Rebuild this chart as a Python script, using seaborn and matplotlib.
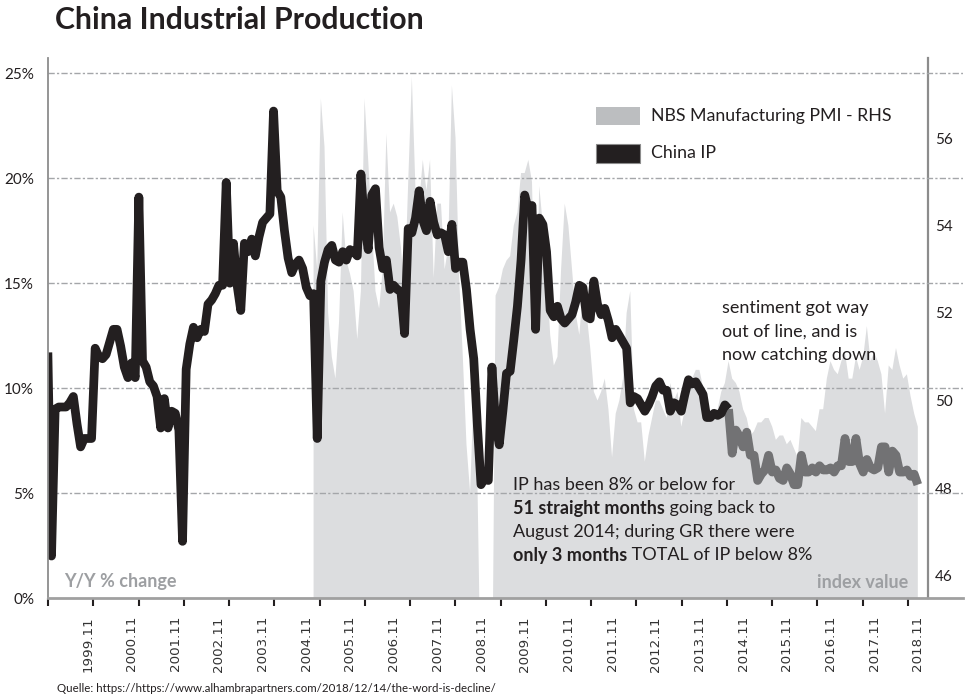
import numpy as np
import pandas as pd
import matplotlib
matplotlib.use("Agg")
import matplotlib.pyplot as plt
import seaborn as sns
from matplotlib.patches import Rectangle

# ---------------- data ----------------
months = pd.period_range("1998-12", "2018-11", freq="M")

ip_values = [
    11.7,
    2.0, 9.0, 9.1, 9.1, 9.1, 9.3, 9.6, 8.3, 7.2, 7.6, 7.6, 7.6,          # 1999
    11.9, 11.5, 11.4, 11.6, 12.2, 12.8, 12.8, 12.0, 11.0, 10.5, 11.2, 10.5,  # 2000
    19.1, 11.3, 11.0, 10.3, 10.1, 9.6, 8.1, 9.5, 8.1, 8.9, 8.8, 8.0,     # 2001
    2.7, 10.9, 12.1, 12.9, 12.4, 12.8, 12.7, 14.0, 14.2, 14.5, 14.9, 14.9,  # 2002
    19.8, 15.0, 16.9, 14.9, 13.7, 16.9, 16.5, 17.1, 16.3, 17.2, 17.9, 18.1,  # 2003
    18.3, 23.2, 19.4, 19.1, 17.5, 16.2, 15.5, 15.9, 16.1, 15.7, 14.8, 14.4,  # 2004
    14.5, 7.6, 15.1, 16.0, 16.6, 16.8, 16.1, 16.0, 16.5, 16.1, 16.6, 16.5,   # 2005
    16.3, 20.2, 17.8, 16.6, 19.2, 19.5, 16.7, 15.7, 16.1, 14.7, 14.9, 14.7,  # 2006
    14.6, 12.6, 17.6, 17.4, 18.1, 19.4, 18.0, 17.5, 18.9, 17.9, 17.3, 17.4,  # 2007
    17.3, 16.5, 17.8, 15.7, 16.0, 16.0, 14.7, 12.8, 11.4, 8.2, 5.4, 5.7,     # 2008
    5.6, 11.0, 8.3, 7.3, 8.9, 10.7, 10.8, 12.3, 13.9, 16.1, 19.2, 18.5,      # 2009
    18.7, 12.8, 18.1, 17.8, 16.5, 13.7, 13.4, 13.9, 13.3, 13.1, 13.3, 13.5,  # 2010
    14.1, 14.9, 14.8, 13.4, 13.3, 15.1, 14.0, 13.5, 13.8, 13.2, 12.4, 12.8,  # 2011
    12.5, 12.2, 11.9, 9.3, 9.6, 9.5, 9.2, 8.9, 9.2, 9.6, 10.1, 10.3,         # 2012
    9.9, 9.9, 8.9, 9.3, 9.2, 8.9, 9.7, 10.4, 10.2, 10.3, 10.0, 9.7,          # 2013
    8.6, 8.6, 8.8, 8.7, 8.8, 9.2, 9.0, 6.9, 8.0, 7.7, 7.2, 7.9,              # 2014
    6.8, 6.8, 5.6, 5.9, 6.1, 6.8, 6.0, 6.1, 5.7, 5.6, 6.2, 5.9,              # 2015
    5.4, 5.4, 6.8, 6.0, 6.0, 6.2, 6.0, 6.3, 6.1, 6.1, 6.2, 6.0,              # 2016
    6.3, 6.3, 7.6, 6.5, 6.5, 7.6, 6.4, 6.0, 6.6, 6.2, 6.1, 6.2,              # 2017
    7.2, 7.2, 6.0, 7.0, 6.8, 6.0, 6.0, 6.1, 5.8, 5.9, 5.4,                   # 2018
]

pmi_start = "2005-01"
pmi_values = [
    54.0, 53.0, 56.9, 55.8, 52.0, 51.0, 50.5, 51.8, 54.3, 53.2, 52.9, 52.5,  # 2005
    51.4, 52.5, 56.9, 55.5, 54.0, 52.5, 52.1, 53.0, 56.1, 54.3, 54.5, 54.2,  # 2006
    53.5, 52.5, 55.0, 57.4, 54.8, 54.5, 55.5, 54.8, 55.5, 52.8, 54.5, 54.5,  # 2007
    53.0, 53.5, 57.2, 56.0, 52.8, 51.0, 49.0, 47.9, 50.2, 48.2, 43.0, 41.0,  # 2008
    41.5, 42.4, 52.4, 52.6, 53.0, 53.2, 53.3, 54.0, 54.3, 55.2, 55.2, 55.5,  # 2009
    55.0, 51.5, 54.9, 54.0, 53.0, 51.5, 50.8, 51.0, 53.0, 54.5, 54.0, 53.0,  # 2010
    52.0, 51.5, 52.5, 52.0, 51.2, 50.2, 50.0, 50.2, 50.5, 49.8, 48.7, 49.7,  # 2011
    50.0, 50.5, 52.0, 52.5, 49.8, 49.5, 49.5, 48.6, 49.2, 49.6, 50.0, 50.0,  # 2012
    49.8, 49.6, 50.4, 50.0, 50.2, 49.4, 49.8, 50.3, 50.5, 50.7, 50.7, 50.3,  # 2013
    50.0, 49.6, 49.8, 49.8, 50.2, 50.4, 50.9, 50.5, 50.4, 50.2, 49.8, 49.6,  # 2014
    49.2, 49.3, 49.5, 49.5, 49.6, 49.6, 49.4, 49.1, 49.2, 49.2, 49.0, 49.1,  # 2015
    48.9, 48.7, 49.6, 49.5, 49.5, 49.4, 49.3, 49.8, 49.8, 50.5, 50.9, 50.7,  # 2016
    50.6, 50.9, 51.1, 50.5, 50.5, 51.0, 50.7, 51.0, 51.7, 50.9, 51.1, 50.9,  # 2017
    50.6, 49.7, 50.8, 50.7, 51.2, 50.8, 50.5, 50.6, 50.1, 49.7, 49.4,        # 2018
]

highlight_from = "2014-07"   # last stretch drawn in grey
left_ticks = [0, 5, 10, 15, 20, 25]
left_labels = ["0%", "5%", "10%", "15%", "20%", "25%"]
right_ticks = [46, 48, 50, 52, 54, 56]
right_labels = ["46", "48", "50", "52", "54", "56"]

# ---------------- frames ----------------
base = pd.Period("1999-01", freq="M")
def midx(p):
    return (p - base).n

df_ip = pd.DataFrame({"m": [midx(p) for p in months], "ip": ip_values})
cut = midx(pd.Period(highlight_from, freq="M"))
df_black = df_ip[df_ip["m"] <= cut]
df_grey = df_ip[df_ip["m"] >= cut]

pmi_months = pd.period_range(pmi_start, periods=len(pmi_values), freq="M")
df_pmi = pd.DataFrame({"m": [midx(p) for p in pmi_months], "pmi": pmi_values})

nov = [p for p in months if p.month == 11]
lab_pos = [midx(p) for p in nov]
lab_txt = [f"{p.year}.11" for p in nov]

# ---------------- figure ----------------
sns.set_theme(style="white")
plt.rcParams["font.family"] = ["Lato", "DejaVu Sans"]

W, H = 969, 700
fig = plt.figure(figsize=(W / 100, H / 100), dpi=100)
def fx(px): return px / W
def fy(py): return 1 - py / H

ax = fig.add_axes([fx(48), fy(598), fx(963) - fx(48), fy(58) - fy(598)])
ax2 = ax.twinx()
ax.set_zorder(ax2.get_zorder() + 1)
ax.patch.set_visible(False)

px_per_m = 3.64
m_at = lambda px: (px - 51.5) / px_per_m
ax.set_xlim(m_at(48), m_at(963))
ax.set_ylim(0, (598.3 - 58) / 21.0)
ax2.set_ylim(46 - (598 - 575.5) / 43.75, 46 + (575.5 - 58) / 43.75)

# PMI area (right axis)
ax2.fill_between(df_pmi["m"], df_pmi["pmi"], ax2.get_ylim()[0] - 20,
                 color="#dcdddf", lw=0)

# IP line (left axis)
sns.lineplot(data=df_grey, x="m", y="ip", ax=ax, color="#727274", linewidth=6.3,
             solid_joinstyle="round", solid_capstyle="butt", legend=False)
sns.lineplot(data=df_black, x="m", y="ip", ax=ax, color="#231f20", linewidth=6.3,
             solid_joinstyle="round", solid_capstyle="butt", legend=False)

# grid
ax.set_yticks(left_ticks)
ax.set_yticklabels(left_labels)
for v in left_ticks[1:]:
    ax.axhline(v, color="#a4a6a9", lw=1.0, ls=(0, (4.5, 1.6, 1.6, 1.6)), zorder=0.5)

ax.set_xlabel("")
ax.set_ylabel("")
ax2.set_ylabel("")
ax.tick_params(axis="y", length=0, pad=10, labelsize=11, labelcolor="#231f20")

# x ticks: marks and labels
tick_marks = np.linspace(m_at(48), m_at(908), 20)
ax.set_xticks(tick_marks)
ax.set_xticklabels([])
ax.set_xticks(lab_pos, minor=True)
ax.set_xticklabels(lab_txt, minor=True, rotation=90, fontsize=9.6,
                   family="DejaVu Sans", color="#333333", va="top")
ax.tick_params(axis="x", which="major", length=6, width=1.5, color="#231f20",
               direction="out", bottom=True)
ax.tick_params(axis="x", which="minor", length=0, pad=13)

ax2.set_yticks(right_ticks)
ax2.set_yticklabels(right_labels)
ax2.tick_params(axis="y", length=0, pad=5, labelsize=11, labelcolor="#231f20")

for s in ["top", "right"]:
    ax.spines[s].set_visible(False)
ax.spines["left"].set_color("#8c8c8c")
ax.spines["left"].set_linewidth(1.3)
ax.spines["bottom"].set_color("#a0a0a0")
ax.spines["bottom"].set_linewidth(2.0)
for s in ["top", "left", "bottom"]:
    ax2.spines[s].set_visible(False)
ax2.spines["right"].set_position(("axes", (928 - 48) / (963 - 48)))
ax2.spines["right"].set_color("#8c8c8c")
ax2.spines["right"].set_linewidth(1.6)
ax.grid(False)
ax2.grid(False)

# ---------------- texts ----------------
ink = "#231f20"
fig.text(fx(55), fy(20), "China Industrial Production", fontsize=21.8,
         fontweight="bold", color=ink, va="center", ha="left")

# legend
fig.patches.append(Rectangle((fx(596), fy(125)), fx(44), 18 / H, transform=fig.transFigure,
                             facecolor="#bcbec0", edgecolor="none"))
fig.patches.append(Rectangle((fx(596), fy(163)), fx(44), 19 / H, transform=fig.transFigure,
                             facecolor=ink, edgecolor="#8c8c8c", lw=0.8))
fig.text(fx(651), fy(116), "NBS Manufacturing PMI - RHS", fontsize=12.8, color=ink,
         va="center", ha="left")
fig.text(fx(651), fy(153), "China IP", fontsize=12.8, color=ink, va="center", ha="left")

# annotations
for i, line in enumerate(["sentiment got way", "out of line, and is", "now catching down"]):
    fig.text(fx(722), fy(308 + i * 23.5), line, fontsize=13, color=ink,
             va="center", ha="left")

renderer = fig.canvas.get_renderer()
rich = [
    [("IP has been 8% or below for", False)],
    [("51 straight months", True), (" going back to", False)],
    [("August 2014; during GR there were", False)],
    [("only 3 months", True), (" TOTAL of IP below 8%", False)],
]
for i, parts in enumerate(rich):
    xpix = 513
    for txt, bold in parts:
        t = fig.text(xpix / W, fy(485 + i * 23.5), txt, fontsize=13, color=ink,
                     fontweight="bold" if bold else "normal", va="center", ha="left")
        bb = t.get_window_extent(renderer=renderer)
        xpix = bb.x1

fig.text(fx(64), fy(582), "Y/Y % change", fontsize=13, fontweight="bold",
         color="#9d9fa2", va="center", ha="left")
fig.text(fx(908), fy(582), "index value", fontsize=13, fontweight="bold",
         color="#9d9fa2", va="center", ha="right")

fig.text(fx(57), fy(688),
         "Quelle: https://https://www.alhambrapartners.com/2018/12/14/the-word-is-decline/",
         fontsize=8.3, family=["Liberation Sans Narrow", "Lato", "DejaVu Sans"],
         color=ink, va="center", ha="left")

fig.savefig("out.png", dpi=100)
